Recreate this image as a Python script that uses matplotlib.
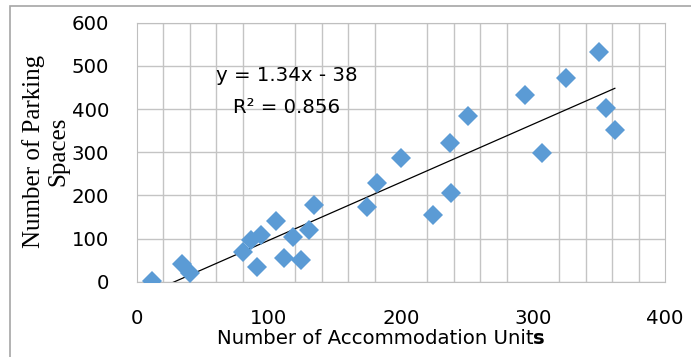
import numpy as np
import matplotlib.pyplot as plt
from matplotlib.patches import Rectangle
from matplotlib.ticker import MultipleLocator

units = [11, 34, 40, 80, 86, 94, 91, 105, 111, 118, 124, 130, 134,
         174, 182, 200, 224, 237, 238, 251, 294, 307, 325, 350, 355, 362]
spaces = [2, 42, 19, 68, 97, 109, 34, 140, 56, 103, 50, 120, 178,
          172, 229, 287, 154, 322, 206, 384, 432, 298, 471, 533, 402, 352]
eq_text = "y = 1.34x - 38"
r2_text = "R² = 0.856"

W, H = 691, 357
plt.rcParams['font.family'] = 'DejaVu Sans'
fig = plt.figure(figsize=(W / 100, H / 100), dpi=100)

# outer chart border, cut off at right/bottom like the source
fig.patches.append(Rectangle((10 / W, -0.05), 1.0, 1 - 6 / H + 0.05,
                             transform=fig.transFigure, fill=False,
                             ec='#A6A6A6', lw=1.2))

ax = fig.add_axes([137 / W, 1 - 281.7 / H, (665 - 137) / W, (281.7 - 22.7) / H])
ax.set_xlim(0, 400)
ax.set_ylim(0, 600)
ax.xaxis.set_major_locator(MultipleLocator(100))
ax.xaxis.set_minor_locator(MultipleLocator(20))
ax.yaxis.set_major_locator(MultipleLocator(100))
ax.grid(True, which='major', axis='y', color='#C4C4C4', lw=1)
ax.grid(True, which='minor', axis='x', color='#C4C4C4', lw=1)
ax.set_axisbelow(True)
for s in ax.spines.values():
    s.set_color('#BFBFBF')
ax.tick_params(which='both', length=0, labelsize=14.2, pad=20)

ax.plot(units, spaces, 'D', ms=10, color='#5B9BD5', mew=0, zorder=3)

# linear trendline over the data range
k, b = np.polyfit(units, spaces, 1)
xs = np.array([min(units), max(units)])
ax.plot(xs, k * xs + b, color='black', lw=0.9, zorder=2)

ax.text(113.6, 478, eq_text, ha='center', va='center', fontsize=14.2)
ax.text(113.6, 404, r2_text, ha='center', va='center', fontsize=14.2)

fig.text(46 / W, 1 - 151 / H, "Number of Parking\nSpaces", rotation=90,
         ha='center', va='center', multialignment='center',
         family='Liberation Serif', fontsize=18, linespacing=1.15)

t = fig.text(216.7 / W, 1 - 338 / H, "Number of Accommodation Unit",
             ha='left', va='center', fontsize=14.2)
ax.annotate("s", xy=(1, 0), xycoords=t, va='bottom', ha='left',
            fontsize=14.2, weight='bold')

fig.savefig("out.png", dpi=100)
